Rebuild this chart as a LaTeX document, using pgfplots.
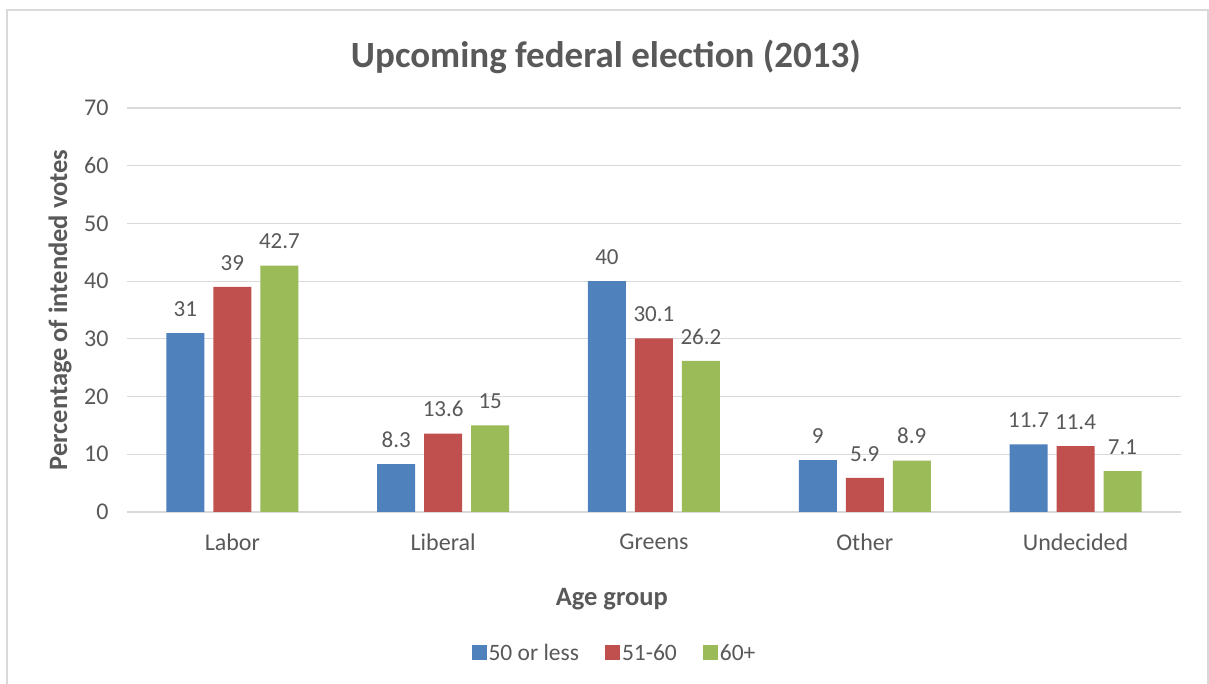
\documentclass[border=0pt]{standalone}
\usepackage{pgfplots}
\pgfplotsset{compat=1.18}
\usepackage{fontspec}
\setmainfont{Carlito}
\definecolor{cb}{HTML}{4F81BD}
\definecolor{cr}{HTML}{C0504D}
\definecolor{cg}{HTML}{9BBB59}
\definecolor{tx}{HTML}{595959}
\definecolor{gr}{HTML}{D9D9D9}
\begin{document}
\begin{tikzpicture}[x=1pt,y=1pt]
\useasboundingbox (0,0) rectangle (1209,684);
\fill[white] (0,0) rectangle (1209,684);
\draw[gr, line width=1.5pt] (7,-5) rectangle (1208,674);
\begin{axis}[
  at={(127pt,172pt)}, anchor=south west,
  scale only axis, width=1054pt, height=404pt,
  xmin=-0.5, xmax=4.5, ymin=0, ymax=70,
  ytick={0,10,...,70}, xtick={0,1,2,3,4},
  xticklabels={Labor,Liberal,Greens,Other,Undecided},
  axis line style={draw=none},
  major tick length=0pt,
  ymajorgrids, grid style={gr, line width=1.2pt},
  /pgf/number format/assume math mode=true,
  /pgf/number format/fixed, /pgf/number format/precision=1,
  ticklabel style={font=\fontsize{24}{28}\selectfont, color=tx},
  yticklabel style={xshift=-15pt},
  xticklabel style={yshift=-18pt},
  ybar=9pt, bar width=38pt,
  nodes near coords,
  every node near coord/.append style={font=\fontsize{23}{27}\selectfont, color=tx, yshift=13pt},
  title={Upcoming federal election (2013)},
  title style={at={(axis description cs:0.4545,1.112)}, anchor=center, font=\fontsize{37}{42}\selectfont\bfseries, color=tx},
  xlabel={Age group},
  xlabel style={at={(axis description cs:0.46,-0.215)}, anchor=center, font=\fontsize{26.5}{30}\selectfont\bfseries, color=tx},
  ylabel={Percentage of intended votes},
  ylabel style={at={(axis description cs:-0.0636,0.5)}, anchor=center, font=\fontsize{26.5}{30}\selectfont\bfseries, color=tx},
  legend columns=3,
  legend style={at={(axis description cs:0.4625,-0.349)}, anchor=center, draw=none, fill=none,
    font=\fontsize{23.5}{28}\selectfont, text=tx,
    /tikz/every even column/.append style={column sep=24pt}},
  legend image code/.code={\fill[#1] (0pt,-7.5pt) rectangle (15pt,7.5pt);},
]
\addplot[fill=cb, draw=none] coordinates {(0,31) (1,8.3) (2,40) (3,9) (4,11.7)};
\addplot[fill=cr, draw=none] coordinates {(0,39) (1,13.6) (2,30.1) (3,5.9) (4,11.4)};
\addplot[fill=cg, draw=none] coordinates {(0,42.7) (1,15) (2,26.2) (3,8.9) (4,7.1)};
\legend{50 or less,51-60,60+}
\end{axis}
\end{tikzpicture}
\end{document}
